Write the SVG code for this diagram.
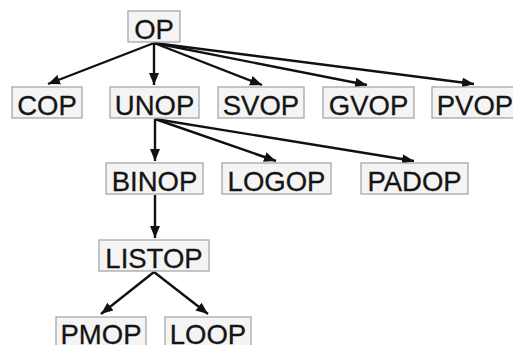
<svg xmlns="http://www.w3.org/2000/svg" width="513" height="345" viewBox="0 0 513 345">
<style>
.box{fill:#f4f4f4;stroke:#a8a8a8;stroke-width:1.3}
.lbl{font-family:"Liberation Sans",Arial,sans-serif;font-size:27.5px;fill:#151515;stroke:#151515;stroke-width:0.3;text-anchor:middle}
.edge{stroke:#111;stroke-width:2.4;fill:none;marker-end:url(#ah)}
</style>
<defs>
<marker id="ah" markerUnits="userSpaceOnUse" markerWidth="14" markerHeight="12" refX="12" refY="5" orient="auto">
<path d="M0,0 L12,5 L0,10 z" fill="#111"/>
</marker>
</defs>
<rect width="513" height="345" fill="#fff"/>
<g id="connectors">
<line class="edge" x1="154" y1="43" x2="48" y2="84"/>
<line class="edge" x1="154" y1="43" x2="154" y2="85"/>
<line class="edge" x1="154" y1="43" x2="262" y2="85"/>
<line class="edge" x1="154" y1="43" x2="367" y2="85"/>
<line class="edge" x1="154" y1="43" x2="474" y2="84"/>
<line class="edge" x1="155" y1="119" x2="155" y2="161"/>
<line class="edge" x1="155" y1="119" x2="276" y2="161"/>
<line class="edge" x1="155" y1="119" x2="414" y2="161"/>
<line class="edge" x1="155" y1="195" x2="155" y2="238"/>
<line class="edge" x1="154" y1="272" x2="101" y2="314"/>
<line class="edge" x1="154" y1="272" x2="208" y2="314"/>
</g>
<g id="OP"><rect class="box" x="128" y="11" width="52" height="31"/><text class="lbl" x="154" y="39">OP</text></g>
<g id="COP"><rect class="box" x="12" y="87" width="70" height="31"/><text class="lbl" x="47" y="115">COP</text></g>
<g id="UNOP"><rect class="box" x="110" y="87" width="89" height="31"/><text class="lbl" x="154.5" y="115">UNOP</text></g>
<g id="SVOP"><rect class="box" x="218" y="87" width="86" height="31"/><text class="lbl" x="261" y="115">SVOP</text></g>
<g id="GVOP"><rect class="box" x="323" y="87" width="91" height="31"/><text class="lbl" x="368.5" y="115">GVOP</text></g>
<g id="PVOP"><rect class="box" x="432" y="87" width="88" height="31"/><text class="lbl" x="475" y="115">PVOP</text></g>
<g id="BINOP"><rect class="box" x="106" y="163" width="97" height="31"/><text class="lbl" x="154.5" y="191">BINOP</text></g>
<g id="LOGOP"><rect class="box" x="222" y="163" width="109" height="31"/><text class="lbl" x="276.5" y="191">LOGOP</text></g>
<g id="PADOP"><rect class="box" x="361" y="163" width="107" height="31"/><text class="lbl" x="414.5" y="191">PADOP</text></g>
<g id="LISTOP"><rect class="box" x="99" y="240" width="110" height="31"/><text class="lbl" x="154" y="268">LISTOP</text></g>
<g id="PMOP"><rect class="box" x="56" y="317" width="90" height="31"/><text class="lbl" x="101" y="344">PMOP</text></g>
<g id="LOOP"><rect class="box" x="165" y="317" width="86" height="31"/><text class="lbl" x="208" y="344">LOOP</text></g>
</svg>
